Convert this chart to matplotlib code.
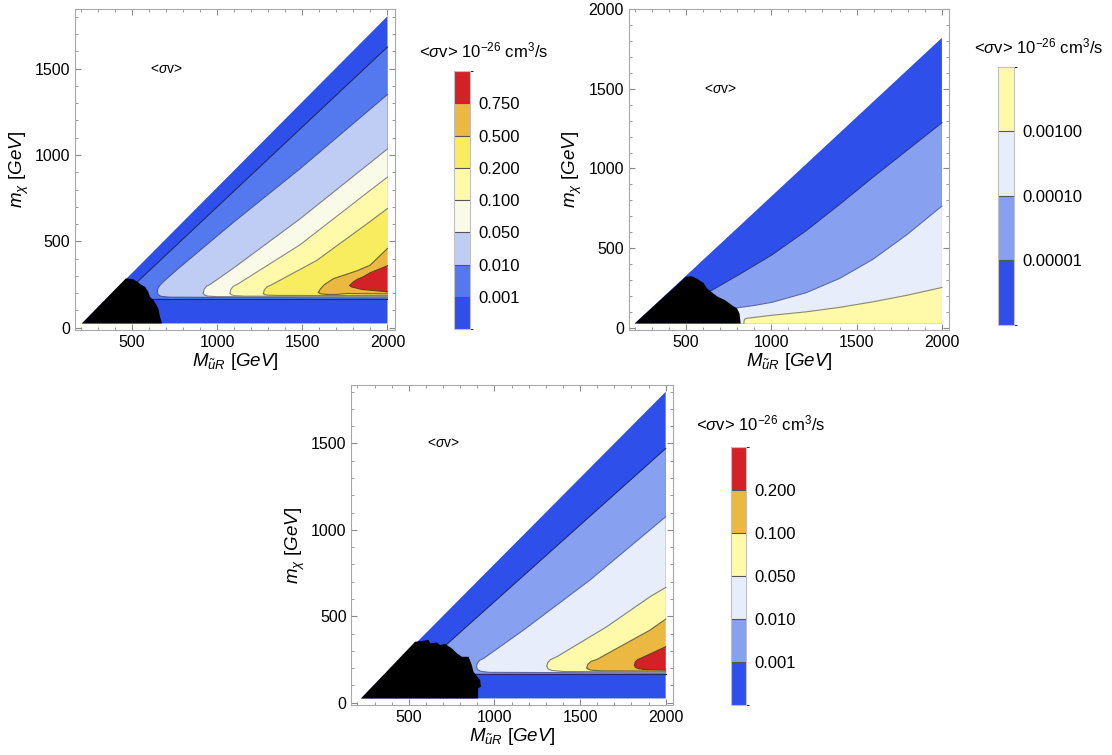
import numpy as np
import matplotlib
matplotlib.use('Agg')
import matplotlib.pyplot as plt
from matplotlib.colors import ListedColormap, BoundaryNorm
from matplotlib.cm import ScalarMappable
from matplotlib.ticker import MultipleLocator

plt.rcParams['font.family'] = ['Liberation Sans', 'DejaVu Sans']
plt.rcParams['mathtext.fontset'] = 'custom'
plt.rcParams['mathtext.rm'] = 'Liberation Sans'
plt.rcParams['mathtext.it'] = 'Liberation Sans:italic'
plt.rcParams['mathtext.bf'] = 'Liberation Sans:bold'

# ---------------- panel 1 (top left) ----------------
p1_labels = ['0.001', '0.010', '0.050', '0.100', '0.200', '0.500', '0.750']
p1_colors = ['#2f4feb', '#5479ee', '#bfcdf5', '#fafae8', '#fefaaa', '#f8ec5f', '#ebb842', '#d42128']
p1_lcolors = ['#1e2a6a', '#4a5a90', '#808080', '#8a8a80', '#80806a', '#6a6030', '#6a3a20']
p1_tri_M = [205, 2000, 2000]
p1_tri_m = [25, 1803, 25]
p1_up_M = [[531, 2000],
           [648, 652, 664, 690, 762, 1095, 1486, 2000],
           [918, 923, 937, 960, 1095, 1486, 2000],
           [1075, 1080, 1094, 1119, 1486, 1898, 2000],
           [1271, 1276, 1292, 1318, 1585, 1898, 2000],
           [1594, 1604, 1630, 1682, 1822, 1898, 2000],
           [1778, 1795, 1822, 1858, 1898, 2000]]
p1_up_m = [[266, 1625],
           [208, 228, 247, 272, 335, 610, 920, 1350],
           [200, 222, 240, 252, 345, 630, 1035],
           [200, 222, 240, 252, 480, 795, 872],
           [198, 218, 236, 248, 390, 615, 690],
           [205, 222, 250, 284, 330, 362, 459],
           [245, 262, 280, 295, 318, 359]]
p1_lo_M = [[600, 2000],
           [648, 653, 668, 720, 2000],
           [918, 925, 944, 1000, 2000],
           [1075, 1082, 1100, 1160, 2000],
           [1271, 1278, 1295, 1350, 2000],
           [1594, 1605, 1640, 1700, 1760, 2000],
           [1778, 1790, 1850, 2000]]
p1_lo_m = [[168, 168],
           [208, 192, 182, 177, 173],
           [200, 190, 183, 180, 178],
           [200, 192, 186, 183, 182],
           [198, 193, 189, 187, 186],
           [205, 197, 193, 193, 198, 196],
           [245, 236, 222, 208]]
p1_blk_M = [205, 464, 507, 531, 552, 576, 595, 605, 626, 654, 664, 676]
p1_blk_m = [25, 286, 280, 266, 250, 237, 208, 179, 160, 112, 64, 25]

# ---------------- panel 2 (top right) ----------------
p2_labels = ['0.00001', '0.00010', '0.00100']
p2_colors = ['#2f4feb', '#87a0f0', '#e7edfa', '#fffaaa']
p2_lcolors = ['#2a3a80', '#5a6aa0', '#888870']
p2_tri_M = [200, 2000, 2000]
p2_tri_m = [27, 1820, 27]
p2_up_M = [[640, 813, 1005, 1205, 1401, 1596, 1793, 2000],
           [790, 900, 1005, 1204, 1401, 1596, 1793, 2000],
           [840, 841, 846, 860, 1000, 1204, 1400, 1596, 1800, 2000]]
p2_up_m = [[228, 335, 458, 610, 775, 945, 1112, 1287],
           [124, 140, 160, 220, 310, 430, 583, 764],
           [27, 45, 55, 60, 78, 100, 128, 163, 205, 253]]
p2_lo_M = [[680, 2000], [800, 2000], [840, 2000]]
p2_lo_m = [[27, 27], [27, 27], [27, 27]]
p2_blk_M = [200, 500, 531, 562, 603, 624, 655, 686, 728, 769, 800, 814, 821]
p2_blk_m = [27, 320, 324, 310, 282, 247, 220, 195, 174, 142, 121, 90, 27]

# ---------------- panel 3 (bottom) ----------------
p3_labels = ['0.001', '0.010', '0.050', '0.100', '0.200']
p3_colors = ['#2f4feb', '#87a0f0', '#e7edfa', '#fefaaa', '#ebb842', '#d42128']
p3_lcolors = ['#1e2a6a', '#5a6aa0', '#808080', '#6a6a40', '#6a3a20']
p3_tri_M = [221, 2000, 2000]
p3_tri_m = [25, 1799, 25]
p3_up_M = [[717, 2000],
           [895, 900, 914, 936, 1169, 1558, 1908, 2000],
           [1306, 1311, 1328, 1364, 1656, 1908, 2000],
           [1539, 1545, 1565, 1597, 1908, 2000],
           [1818, 1822, 1836, 1856, 2000]]
p3_up_m = [[334, 1471],
           [208, 228, 246, 256, 420, 710, 1000, 1076],
           [212, 232, 250, 266, 440, 613, 667],
           [202, 222, 240, 250, 420, 484],
           [218, 236, 250, 258, 324]]
p3_lo_M = [[790, 2000],
           [895, 902, 920, 970, 2000],
           [1306, 1313, 1335, 1400, 2000],
           [1539, 1547, 1570, 1630, 2000],
           [1818, 1822, 1837, 1870, 2000]]
p3_lo_m = [[168, 168],
           [208, 192, 182, 176, 172],
           [212, 196, 187, 181, 178],
           [202, 194, 188, 185, 183],
           [218, 206, 198, 193, 190]]
p3_blk_M = [221, 537, 586, 615, 625, 664, 683, 712, 751, 781, 810, 849, 868, 878, 901, 917, 921, 905, 905]
p3_blk_m = [25, 353, 359, 364, 344, 349, 334, 340, 315, 286, 266, 266, 218, 179, 150, 131, 93, 83, 25]

cb_title = r'<$\sigma$v> 10$^{-26}$ cm$^3$/s'


def panel(ax, cax, tri_M, tri_m, up_M, up_m, lo_M, lo_m, blk_M, blk_m,
          colors, lcolors, labels, lo_lines, ylim):
    ax.fill(tri_M, tri_m, color=colors[0], lw=0, zorder=1)
    for k in range(len(up_M)):
        ax.fill(up_M[k] + lo_M[k][::-1], up_m[k] + lo_m[k][::-1],
                color=colors[k + 1], lw=0, zorder=1)
    for k in range(len(up_M)):
        ax.plot(up_M[k], up_m[k], color=lcolors[k], lw=0.8, zorder=2)
        if lo_lines:
            ax.plot(lo_M[k], lo_m[k], color=lcolors[k], lw=0.8, zorder=2)
    ax.fill(blk_M, blk_m, color='black', lw=0, zorder=3)
    ax.text(700, 1500, r'<$\sigma$v>', fontsize=10, ha='center', va='center')

    ax.set_xlim(165, 2042)
    ax.set_ylim(*ylim)
    ax.xaxis.set_major_locator(MultipleLocator(500))
    ax.xaxis.set_minor_locator(MultipleLocator(100))
    ax.yaxis.set_major_locator(MultipleLocator(500))
    ax.yaxis.set_minor_locator(MultipleLocator(100))
    ax.tick_params(which='both', direction='in', top=True, right=True,
                   color='#888888', labelsize=11.5)
    ax.tick_params(which='major', length=4)
    ax.tick_params(which='minor', length=2.5)
    for s in ax.spines.values():
        s.set_color('#a8a8a8')
    ax.set_xlabel(r'$M_{\tilde{u}R}\ [GeV]$', fontsize=13.5, labelpad=1)
    ax.set_ylabel(r'$m_\chi\ [GeV]$', fontsize=13.5, labelpad=3)

    n = len(colors)
    sm = ScalarMappable(norm=BoundaryNorm(np.arange(n + 1), n), cmap=ListedColormap(colors))
    cb = plt.colorbar(sm, cax=cax, ticks=np.arange(1, n), drawedges=True)
    cb.set_ticklabels(labels)
    cb.ax.tick_params(length=0, labelsize=12, pad=6)
    cb.outline.set_edgecolor('#c0c0c0')
    cb.dividers.set_color('#555555')
    cb.dividers.set_linewidth(0.8)


fig = plt.figure(figsize=(11.12, 7.55), dpi=100)

ax1 = fig.add_axes([0.0675, 0.5629, 0.2874, 0.4248])
cax1 = fig.add_axes([0.4079, 0.5638, 0.0144, 0.3421])
panel(ax1, cax1, p1_tri_M, p1_tri_m, p1_up_M, p1_up_m, p1_lo_M, p1_lo_m,
      p1_blk_M, p1_blk_m, p1_colors, p1_lcolors, p1_labels, True, (-13, 1843))
fig.text(484 / 1112, 1 - 50 / 755, cb_title, ha='center', va='center', fontsize=12)

ax2 = fig.add_axes([0.5654, 0.5629, 0.2881, 0.4252])
cax2 = fig.add_axes([0.8978, 0.5695, 0.0142, 0.3421])
panel(ax2, cax2, p2_tri_M, p2_tri_m, p2_up_M, p2_up_m, p2_lo_M, p2_lo_m,
      p2_blk_M, p2_blk_m, p2_colors, p2_lcolors, p2_labels, False, (-14, 2001))
fig.text(1039 / 1112, 1 - 46.7 / 755, cb_title, ha='center', va='center', fontsize=12)

ax3 = fig.add_axes([0.3160, 0.0662, 0.2891, 0.4238])
cax3 = fig.add_axes([0.6571, 0.0662, 0.0139, 0.3421])
panel(ax3, cax3, p3_tri_M, p3_tri_m, p3_up_M, p3_up_m, p3_lo_M, p3_lo_m,
      p3_blk_M, p3_blk_m, p3_colors, p3_lcolors, p3_labels, True, (-13, 1838))
fig.text(761 / 1112, 1 - 423 / 755, cb_title, ha='center', va='center', fontsize=12)

fig.savefig('out.png', dpi=100)
